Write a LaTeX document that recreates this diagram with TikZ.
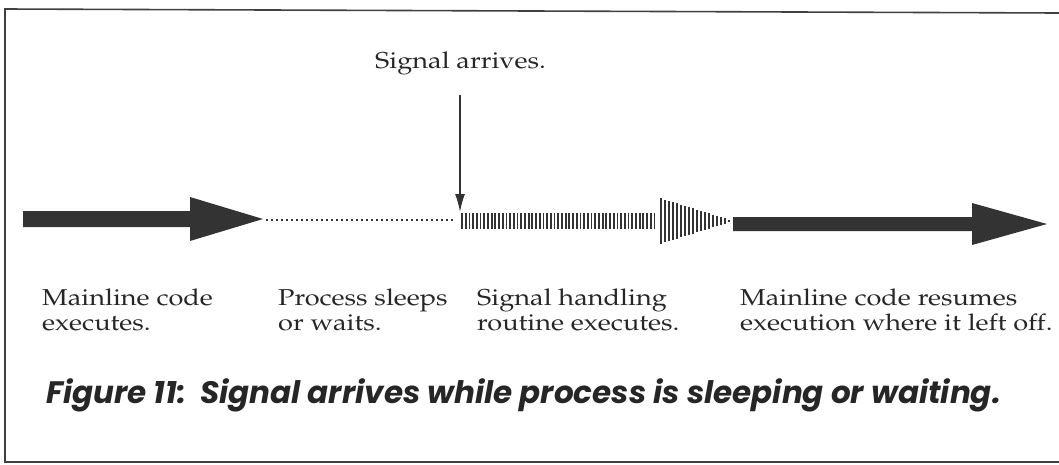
\documentclass[tikz,border=0pt]{standalone}
\usepackage{fontspec}
\usepackage{graphicx}
\usetikzlibrary{arrows.meta}
\newfontfamily\capfont{Poppins}
\newcommand\palfont{\fontencoding{T1}\fontfamily{ppl}\selectfont}
\newcommand\twolines[2]{\scalebox{1.18}[1]{\begin{tabular}{@{}l@{}}#1\\#2\end{tabular}}}
\tikzset{
  lbl/.style={anchor=north west, inner sep=0pt, font=\palfont\fontsize{23}{25}\selectfont, text=black!85},
  fat/.style={fill=black!80, draw=none},
  frame/.style={draw=black!75, line width=1.6pt},
}
\renewcommand\arraystretch{1.0}
\begin{document}
\begin{tikzpicture}[x=1pt,y=-1pt]
\useasboundingbox (0,0) rectangle (1059,464);
% frame
\draw[frame] (1059,13) -- (5,9) -- (5,462) -- (1059,462);
% arrow 1
\coordinate (a1t) at (263,219);
\fill[fat] (23,211) -- (190,211) -- (190,197) -- (263,219) -- (190,241) -- (190,227) -- (23,227) -- cycle;
% dotted
\coordinate (d2) at (455,220);
\draw[black!80, line width=2pt, dash pattern=on 2pt off 3pt] (a1t) ++(3,1) -- (d2);
% striped arrow
\foreach \x in {462,465.7,...,658} {\draw[black!80, line width=1.8pt] (\x,213) -- (\x,229);}
\foreach \x in {661,665,...,729} {
  \pgfmathsetmacro\h{22*(730-\x)/70+1}
  \draw[black!80, line width=2pt] (\x,221-\h) -- (\x,221+\h);
}
% arrow 3
\coordinate (a3t) at (1047,224);
\fill[fat] (733,217) -- (972,217) -- (972,203) -- (1047,224) -- (972,245) -- (972,231) -- (733,231) -- cycle;
% signal arrives
\node[font=\palfont\fontsize{23}{25}\selectfont, text=black!85, anchor=base west, inner sep=0pt] (sig) at (375,68) {\scalebox{1.18}[1]{Signal arrives.}};
\coordinate (hit) at (460,212);
\draw[black!80, line width=1.5pt, -{Latex[length=18pt,width=10pt]}] (460,95) -- (hit);
% labels
\node[lbl] (l1) at (42,288) {\twolines{Mainline code}{executes.}};
\node[lbl] (l2) at (278,288) {\twolines{Process sleeps}{or waits.}};
\node[lbl] (l3) at (477,288) {\twolines{Signal handling}{routine executes.}};
\node[lbl] (l4) at (740,288) {\twolines{Mainline code resumes}{execution where it left off.}};
% caption
\node[anchor=base west, inner sep=0pt, font=\capfont\bfseries\itshape\fontsize{31}{31}\selectfont, text=black!85] (cap) at (46,403) {Figure 11:\ \ Signal arrives while process is sleeping or waiting.};
\end{tikzpicture}
\end{document}
